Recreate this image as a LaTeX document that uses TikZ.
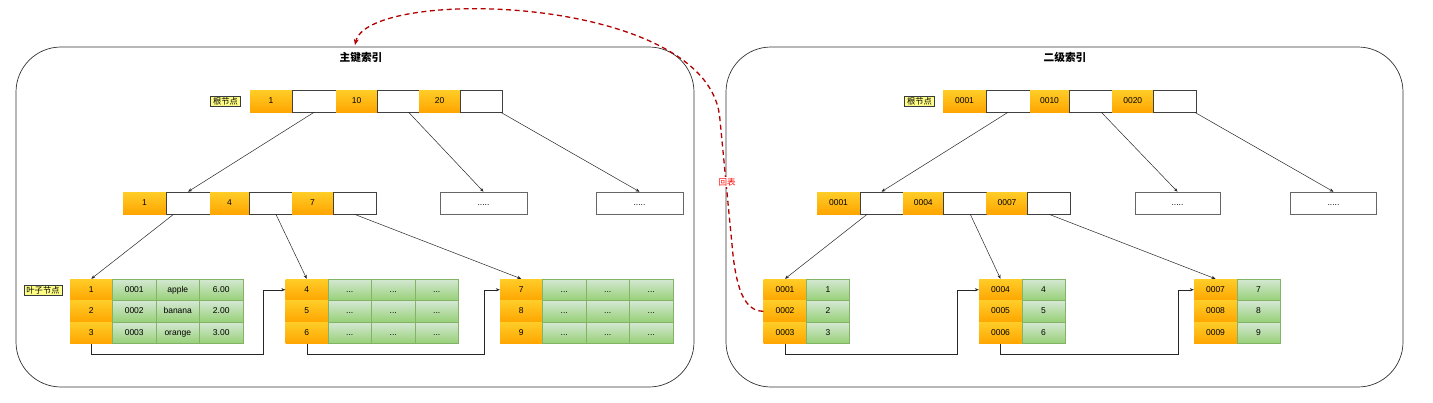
\documentclass[tikz,border=0pt]{standalone}
\usepackage{fontspec}
\setmainfont{Liberation Sans}
\newfontfamily\cjk{Noto Sans CJK SC}
\usetikzlibrary{arrows.meta}
\definecolor{orgT}{HTML}{FFCD28}
\definecolor{orgB}{HTML}{FFA500}
\definecolor{grnT}{HTML}{D5E8D4}
\definecolor{grnB}{HTML}{97D077}
\definecolor{grnD}{HTML}{82B366}
\definecolor{lblF}{HTML}{FFFF88}
\definecolor{lblD}{HTML}{36393D}
\definecolor{redD}{HTML}{B20000}
\begin{document}
\begin{tikzpicture}[x=1pt,y=-1pt,
  cellbase/.style={rectangle, inner sep=0pt, minimum height=22pt, text height=6.3pt, text depth=1.8pt, font=\fontsize{8.5}{10}\selectfont, text=black},
  orgc/.style={cellbase, top color=orgT, bottom color=orgB, draw=none},
  whc/.style={cellbase, fill=white, draw=black!75, line width=0.6pt},
  dotbox/.style={cellbase, fill=white, draw=black!60, line width=0.6pt},
  grc/.style={cellbase, top color=grnT, bottom color=grnB, draw=grnD, line width=0.5pt},
  lbl/.style={rectangle, inner xsep=2.5pt, inner ysep=1pt, fill=lblF, draw=lblD, line width=0.5pt, font=\cjk\fontsize{8.3}{9}\selectfont, minimum height=10.5pt},
  edge/.style={draw=black!85, line width=0.5pt, -{Stealth[length=4pt,width=3.2pt]}},
  panel/.style={draw=black!80, line width=0.7pt, rounded corners=45pt},
  ttl/.style={font=\cjk\bfseries\fontsize{10.7}{12}\selectfont},
  redpath/.style={draw=redD, line width=1.3pt, dash pattern=on 5pt off 3.5pt, -{Stealth[length=6pt,width=5pt]}},
  redlbl/.style={fill=white, inner sep=1pt, text=red, font=\cjk\fontsize{8.5}{10}\selectfont}
]
\useasboundingbox (0,0) rectangle (1433,402);

% panels
\draw[panel] (16,47) rectangle (694,387);
\draw[panel] (726,47) rectangle (1403,387);
\node[ttl] (t1) at (361,57) {主键索引};
\node[ttl] (t2) at (1065,57) {二级索引};

% ===== LEFT: root =====
\node[lbl] (lrl) at (225.5,101) {根节点};
\node[orgc, minimum width=42pt] (lr1) at (271,101) {1};
\node[whc, minimum width=44pt] (lrw1) at (314,101) {};
\node[orgc, minimum width=41pt] (lr2) at (356.5,101) {10};
\node[whc, minimum width=42pt] (lrw2) at (398,101) {};
\node[orgc, minimum width=41pt] (lr3) at (439.5,101) {20};
\node[whc, minimum width=42pt] (lrw3) at (481,101) {};

% ===== LEFT: level 2 =====
\node[orgc, minimum width=43pt] (lm1) at (144.5,203) {1};
\node[whc, minimum width=44pt] (lmw1) at (188,203) {};
\node[orgc, minimum width=39pt] (lm2) at (229.5,203) {4};
\node[whc, minimum width=43pt] (lmw2) at (270.5,203) {};
\node[orgc, minimum width=41pt] (lm3) at (312.5,203) {7};
\node[whc, minimum width=43pt] (lmw3) at (354.5,203) {};
\node[dotbox, minimum width=87pt] (lb1) at (483.5,203) {.....};
\node[dotbox, minimum width=87pt] (lb2) at (639.5,203) {.....};

% ===== LEFT: leaves =====
\node[lbl] (llbl) at (43,290) {叶子节点};
\foreach \r/\y/\a/\b/\c/\d in {1/289.75/1/0001/apple/6.00, 2/311.25/2/0002/banana/2.00, 3/332.75/3/0003/orange/3.00}{
  \node[orgc, minimum width=42.5pt, minimum height=21.5pt] (LL1r\r c0) at (91.25,\y) {\a};
  \node[grc, minimum width=43.5pt, minimum height=21.5pt] (LL1r\r c1) at (134.25,\y) {\b};
  \node[grc, minimum width=43.5pt, minimum height=21.5pt] (LL1r\r c2) at (177.75,\y) {\c};
  \node[grc, minimum width=43.5pt, minimum height=21.5pt] (LL1r\r c3) at (221.25,\y) {\d};
}
\foreach \r/\y/\a in {1/289.75/4, 2/311.25/5, 3/332.75/6}{
  \node[orgc, minimum width=42.5pt, minimum height=21.5pt] (LL2r\r c0) at (306.75,\y) {\a};
  \node[grc, minimum width=43.5pt, minimum height=21.5pt] (LL2r\r c1) at (349.75,\y) {...};
  \node[grc, minimum width=43.5pt, minimum height=21.5pt] (LL2r\r c2) at (393.25,\y) {...};
  \node[grc, minimum width=43.5pt, minimum height=21.5pt] (LL2r\r c3) at (436.75,\y) {...};
}
\foreach \r/\y/\a in {1/289.75/7, 2/311.25/8, 3/332.75/9}{
  \node[orgc, minimum width=42.5pt, minimum height=21.5pt] (LL3r\r c0) at (521.25,\y) {\a};
  \node[grc, minimum width=43.5pt, minimum height=21.5pt] (LL3r\r c1) at (564.25,\y) {...};
  \node[grc, minimum width=43.5pt, minimum height=21.5pt] (LL3r\r c2) at (607.75,\y) {...};
  \node[grc, minimum width=43.5pt, minimum height=21.5pt] (LL3r\r c3) at (651.25,\y) {...};
}

% LEFT edges
\draw[edge] (lrw1.south) -- (lmw1.north);
\draw[edge] (lrw2) -- (lb1.north);
\draw[edge] (lrw3) -- (lb2.north);
\draw[edge] (lmw1) -- (LL1r1c0.north);
\draw[edge] (lmw2) -- (LL2r1c0.north);
\draw[edge] (lmw3.south) -- (LL3r1c0.north);
\draw[edge] (LL1r3c0.south) -- ++(0,10.5) -| ([xshift=-22.5pt]LL2r1c0.west) -- (LL2r1c0.west);
\draw[edge] (LL2r3c0.south) -- ++(0,10.5) -| ([xshift=-15.5pt]LL3r1c0.west) -- (LL3r1c0.west);

% ===== RIGHT: root =====
\node[lbl] (rrl) at (919.5,101) {根节点};
\node[orgc, minimum width=43pt] (rr1) at (964.5,101) {0001};
\node[whc, minimum width=44pt] (rrw1) at (1008,101) {};
\node[orgc, minimum width=39pt] (rr2) at (1049.5,101) {0010};
\node[whc, minimum width=43pt] (rrw2) at (1090.5,101) {};
\node[orgc, minimum width=41.5pt] (rr3) at (1132.75,101) {0020};
\node[whc, minimum width=43pt] (rrw3) at (1175,101) {};

% ===== RIGHT: level 2 =====
\node[orgc, minimum width=43pt] (rm1) at (838.5,203) {0001};
\node[whc, minimum width=43pt] (rmw1) at (881.5,203) {};
\node[orgc, minimum width=40.5pt] (rm2) at (923.25,203) {0004};
\node[whc, minimum width=43pt] (rmw2) at (965,203) {};
\node[orgc, minimum width=41pt] (rm3) at (1007,203) {0007};
\node[whc, minimum width=43pt] (rmw3) at (1049,203) {};
\node[dotbox, minimum width=85pt] (rb1) at (1177.5,203) {.....};
\node[dotbox, minimum width=86pt] (rb2) at (1333.5,203) {.....};

% ===== RIGHT: leaves =====
\foreach \r/\y/\a/\b in {1/289.75/0001/1, 2/311.25/0002/2, 3/332.75/0003/3}{
  \node[orgc, minimum width=43pt, minimum height=21.5pt] (RL1r\r c0) at (785,\y) {\a};
  \node[grc, minimum width=43pt, minimum height=21.5pt] (RL1r\r c1) at (828,\y) {\b};
}
\foreach \r/\y/\a/\b in {1/289.75/0004/4, 2/311.25/0005/5, 3/332.75/0006/6}{
  \node[orgc, minimum width=43pt, minimum height=21.5pt] (RL2r\r c0) at (1000.5,\y) {\a};
  \node[grc, minimum width=43pt, minimum height=21.5pt] (RL2r\r c1) at (1043.5,\y) {\b};
}
\foreach \r/\y/\a/\b in {1/289.75/0007/7, 2/311.25/0008/8, 3/332.75/0009/9}{
  \node[orgc, minimum width=43pt, minimum height=21.5pt] (RL3r\r c0) at (1215.5,\y) {\a};
  \node[grc, minimum width=43pt, minimum height=21.5pt] (RL3r\r c1) at (1258.5,\y) {\b};
}

% RIGHT edges
\draw[edge] (rrw1.south) -- (rmw1.north);
\draw[edge] (rrw2) -- (rb1.north);
\draw[edge] (rrw3) -- (rb2.north);
\draw[edge] (rmw1) -- (RL1r1c0.north);
\draw[edge] (rmw2) -- (RL2r1c0.north);
\draw[edge] (rmw3.south) -- (RL3r1c0.north);
\draw[edge] (RL1r3c0.south) -- ++(0,10.5) -| ([xshift=-21.5pt]RL2r1c0.west) -- (RL2r1c0.west);
\draw[edge] (RL2r3c0.south) -- ++(0,10.5) -| ([xshift=-16pt]RL3r1c0.west) -- (RL3r1c0.west);

% ===== back to table =====
\coordinate (hit) at (355,45);
\draw[redpath] (RL1r2c0.west) .. controls (745,311.25) and (737,290) .. (733,255)
  -- (720,120) .. controls (712,-6) and (368,-14) .. (hit);
\node[redlbl] (hb) at (727,182) {回表};
\end{tikzpicture}
\end{document}
